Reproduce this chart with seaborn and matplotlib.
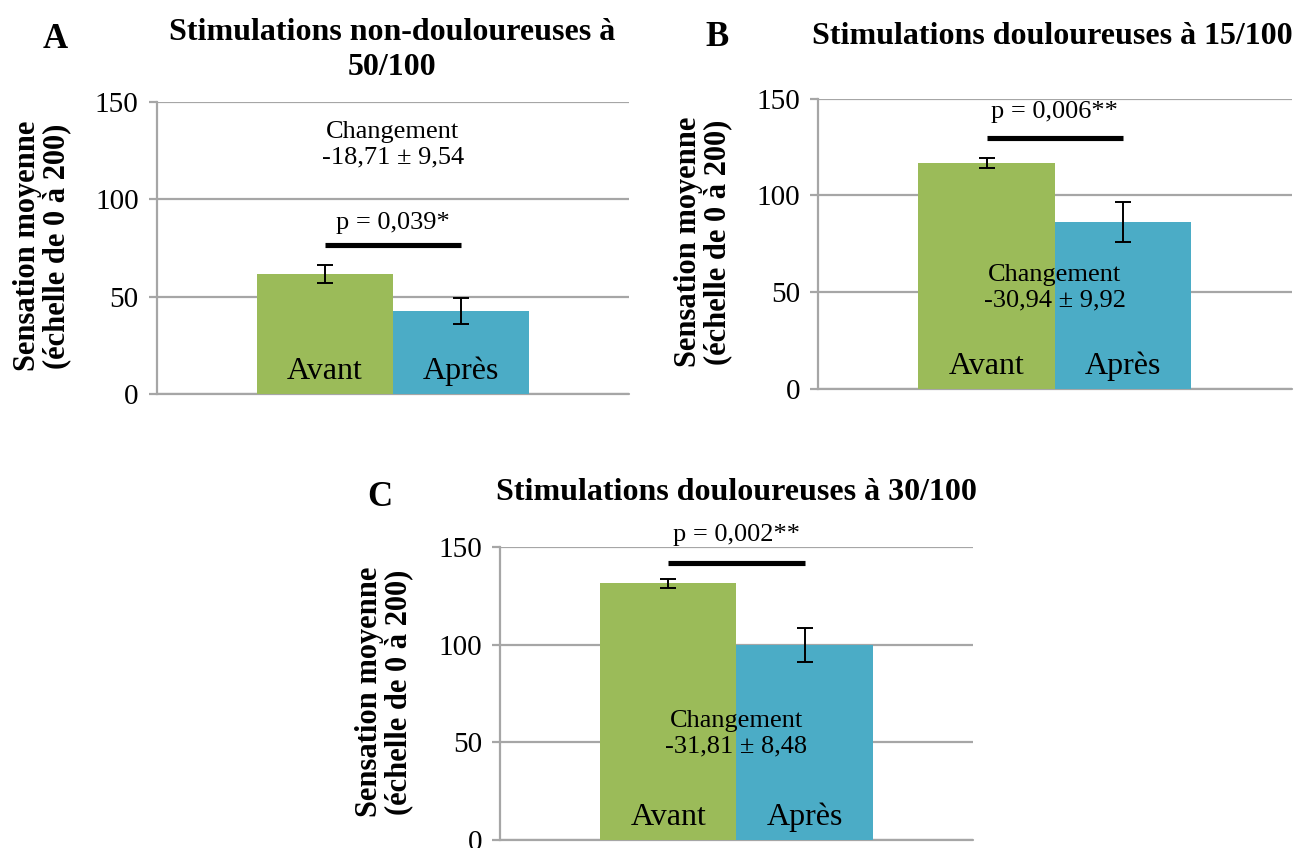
import numpy as np
import pandas as pd
import matplotlib
matplotlib.use("Agg")
import matplotlib.pyplot as plt
import seaborn as sns

# ---------------- data ----------------
moments = ["Avant", "Après"]
panel_letters = ["A", "B", "C"]
panel_titles = ["Stimulations non-douloureuses à\n50/100",
                "Stimulations douloureuses à 15/100",
                "Stimulations douloureuses à 30/100"]
means_A = [61.6, 42.6]
errs_A = [4.8, 6.5]
means_B = [116.8, 86.2]
errs_B = [2.6, 10.5]
means_C = [131.4, 99.7]
errs_C = [2.2, 8.8]
p_labels = ["p = 0,039*", "p = 0,006**", "p = 0,002**"]
change_labels = ["Changement\n-18,71 ± 9,54",
                 "Changement\n-30,94 ± 9,92",
                 "Changement\n-31,81 ± 8,48"]
y_ticks = [0, 50, 100, 150]
y_label = "Sensation moyenne\n(échelle de 0 à 200)"

all_means = [means_A, means_B, means_C]
all_errs = [errs_A, errs_B, errs_C]

# ---------------- style ----------------
sns.set_theme(style="white")
plt.rcParams["font.family"] = ["Liberation Serif", "DejaVu Serif"]
plt.rcParams["text.color"] = "black"
plt.rcParams["axes.labelcolor"] = "black"
plt.rcParams["ytick.color"] = "black"
plt.rcParams["xtick.color"] = "black"

GREEN = "#9BBB59"
BLUE = "#4BACC6"
GRID = "#A6A6A6"

fig = plt.figure(figsize=(12.94, 8.48), dpi=100)

# axes rectangles in figure fraction [left, bottom, width, height]
rects = [
    [0.1211, 0.5354, 0.3650, 0.3443],
    [0.6321, 0.5413, 0.3663, 0.3425],
    [0.3864, 0.0094, 0.3655, 0.3455],
]
# annotation placements (data y)
sig_y = [76.5, 129.4, 142.0]
p_y = [88.0, 143.0, 156.0]
change_y = [128.0, 52.5, 54.5]
label_y = 11.5
# title / letter / ylabel positions in pixels (x, y from top)
title_pos = [(392, 50), (1052, 37), (736, 492)]
letter_pos = [(55, 40), (717, 38), (380, 497)]
ylabel_x = [42, 703, 384]

W, H = 1294, 848

for i in range(3):
    ax = fig.add_axes(rects[i])
    df = pd.DataFrame({"g": [""] * 2, "moment": moments, "valeur": all_means[i]})
    sns.barplot(data=df, x="g", y="valeur", hue="moment", hue_order=moments,
                palette=[GREEN, BLUE], width=0.576, gap=0, errorbar=None,
                saturation=1, legend=False, ax=ax, zorder=2, linewidth=0,
                edgecolor="none")
    ax.set_xlim(-0.5, 0.5)
    ax.set_ylim(0, 150)
    ax.set_yticks(y_ticks)
    ax.set_yticklabels([str(t) for t in y_ticks], fontsize=21)
    ax.set_xlabel("")
    ax.set_ylabel("")
    ax.set_xticks([])
    ax.yaxis.grid(True, color=GRID, linewidth=1.6, zorder=0)
    ax.set_axisbelow(True)
    for s in ["top", "right", "bottom"]:
        ax.spines[s].set_visible(False)
    ax.spines["left"].set_color(GRID)
    ax.spines["left"].set_linewidth(1.6)
    ax.tick_params(axis="y", which="major", length=6, width=1.6, color=GRID,
                   direction="out", left=True, pad=7, labelcolor="black")
    ax.axhline(0, color=GRID, linewidth=1.6, zorder=1, clip_on=False)

    patches = ax.patches[:2]
    xs = [p.get_x() + p.get_width() / 2 for p in patches]
    ax.errorbar(xs, all_means[i], yerr=all_errs[i], fmt="none", ecolor="black",
                elinewidth=1.4, capsize=6, capthick=1.4, zorder=4)
    for x, lab in zip(xs, moments):
        ax.text(x, label_y, lab, ha="center", va="center", fontsize=23, zorder=5)
    # significance bar
    ax.plot([xs[0], xs[1]], [sig_y[i], sig_y[i]], color="black", linewidth=3.7,
            solid_capstyle="butt", zorder=5, clip_on=False)
    ax.text((xs[0] + xs[1]) / 2, p_y[i], p_labels[i], ha="center", va="center",
            fontsize=19, zorder=5, clip_on=False)
    ax.text(0.0, change_y[i], change_labels[i], ha="center", va="center",
            fontsize=19, linespacing=1.2, zorder=5)

    # title, letter, ylabel
    tx, ty = title_pos[i]
    fig.text(tx / W, 1 - ty / H, panel_titles[i], ha="center", va="center",
             fontsize=23, fontweight="bold", linespacing=1.25)
    lx, ly = letter_pos[i]
    fig.text(lx / W, 1 - ly / H, panel_letters[i], ha="center", va="center",
             fontsize=25, fontweight="bold")
    bb = rects[i]
    fig.text(ylabel_x[i] / W, bb[1] + bb[3] / 2 + 0.002, y_label, rotation=90,
             ha="center", va="center", fontsize=22, fontweight="bold",
             linespacing=1.02)

fig.savefig("out.png", dpi=100)
